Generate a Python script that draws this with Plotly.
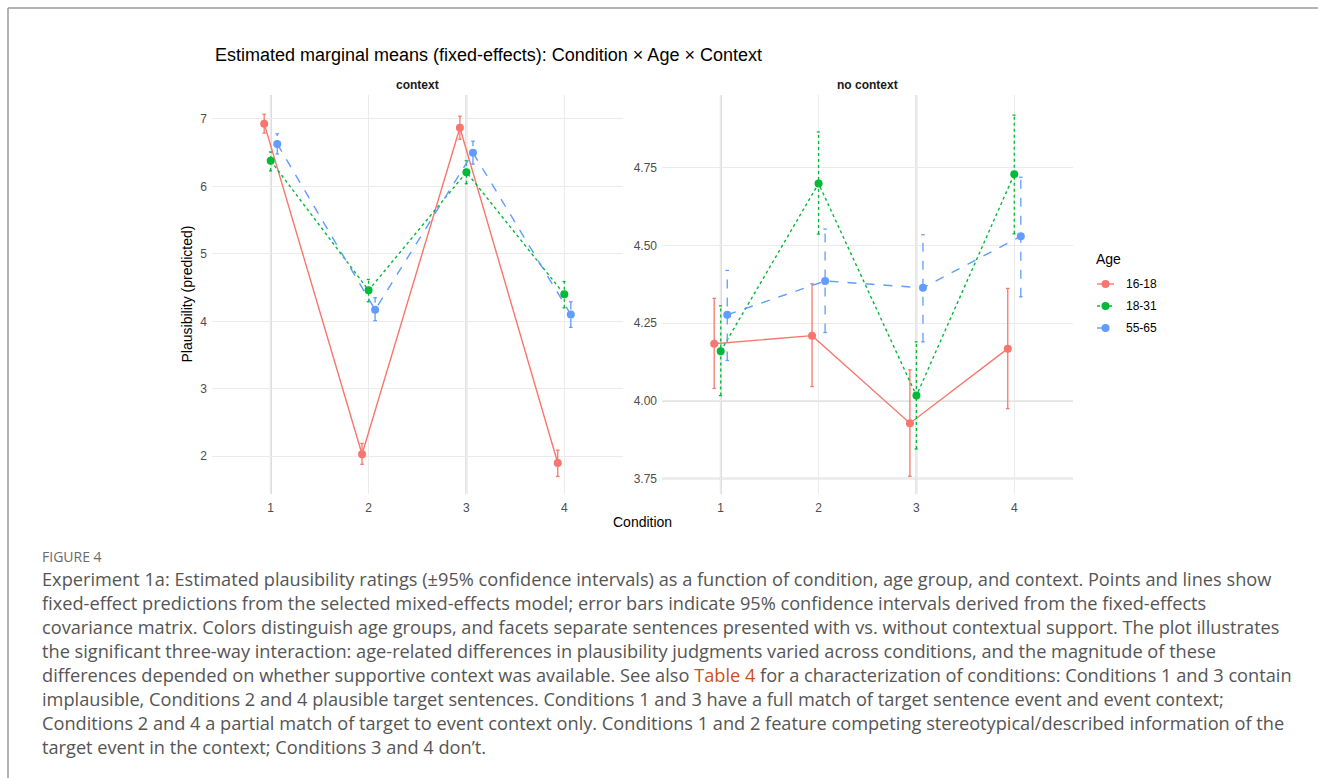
import plotly.graph_objects as go

# ---- data: estimated marginal means with 95% CI ----
conditions = [1, 2, 3, 4]
age_groups = ["16-18", "18-31", "55-65"]

# context facet
ctx_16_18 = [6.93, 2.03, 6.87, 1.90]
ctx_16_18_lo = [6.79, 1.88, 6.70, 1.70]
ctx_16_18_hi = [7.07, 2.19, 7.04, 2.09]
ctx_18_31 = [6.38, 4.46, 6.21, 4.40]
ctx_18_31_lo = [6.23, 4.29, 6.04, 4.20]
ctx_18_31_hi = [6.51, 4.62, 6.38, 4.59]
ctx_55_65 = [6.63, 4.17, 6.50, 4.10]
ctx_55_65_lo = [6.48, 4.01, 6.33, 3.91]
ctx_55_65_hi = [6.78, 4.35, 6.67, 4.29]

# no-context facet
noctx_16_18 = [4.184, 4.210, 3.928, 4.168]
noctx_16_18_lo = [4.040, 4.046, 3.757, 3.975]
noctx_16_18_hi = [4.330, 4.377, 4.100, 4.362]
noctx_18_31 = [4.160, 4.700, 4.017, 4.730]
noctx_18_31_lo = [4.017, 4.537, 3.845, 4.538]
noctx_18_31_hi = [4.306, 4.866, 4.190, 4.920]
noctx_55_65 = [4.277, 4.386, 4.364, 4.530]
noctx_55_65_lo = [4.130, 4.220, 4.190, 4.335]
noctx_55_65_hi = [4.420, 4.553, 4.535, 4.720]

y_ticks_ctx = [2, 3, 4, 5, 6, 7]
y_ticks_noctx = [3.75, 4.00, 4.25, 4.50, 4.75]
y_ticktext_noctx = ["3.75", "4.00", "4.25", "4.50", "4.75"]

# ---- styling ----
W, H = 1318, 778
colors = {"16-18": "#F8766D", "18-31": "#00BA38", "55-65": "#619CFF"}
dashes = {"16-18": "solid", "18-31": "dot", "55-65": "dash"}
dodge = {"16-18": -0.0667, "18-31": 0.0, "55-65": 0.0667}
cap = 0.018
FONT = "Liberation Sans, Arial, sans-serif"


def px_x(p):
    return p / W


def px_y(p):
    return 1 - p / H


fig = go.Figure()

facets = [
    ("x", "y", {"16-18": (ctx_16_18, ctx_16_18_lo, ctx_16_18_hi),
                "18-31": (ctx_18_31, ctx_18_31_lo, ctx_18_31_hi),
                "55-65": (ctx_55_65, ctx_55_65_lo, ctx_55_65_hi)}),
    ("x2", "y2", {"16-18": (noctx_16_18, noctx_16_18_lo, noctx_16_18_hi),
                  "18-31": (noctx_18_31, noctx_18_31_lo, noctx_18_31_hi),
                  "55-65": (noctx_55_65, noctx_55_65_lo, noctx_55_65_hi)}),
]

for xa, ya, series in facets:
    for g in age_groups:
        mean, lo, hi = series[g]
        xs = [c + dodge[g] for c in conditions]
        # error bars as dashed segments with small caps
        ex, ey = [], []
        for x, l, h in zip(xs, lo, hi):
            ex += [x, x, None, x - cap, x + cap, None, x - cap, x + cap, None]
            ey += [l, h, None, l, l, None, h, h, None]
        fig.add_trace(go.Scatter(
            x=ex, y=ey, mode="lines", xaxis=xa, yaxis=ya,
            line=dict(color=colors[g], width=1.3, dash=dashes[g]),
            hoverinfo="skip", showlegend=False))
        fig.add_trace(go.Scatter(
            x=xs, y=mean, mode="lines+markers", xaxis=xa, yaxis=ya, name=g,
            line=dict(color=colors[g], width=1.4, dash=dashes[g]),
            marker=dict(color=colors[g], size=8), showlegend=False))

# panel geometry (pixels)
L1, R1, L2, R2 = 212, 623, 662, 1073
TOP, BOT = 95, 494

axis_common = dict(
    showline=False, zeroline=False, ticks="", showgrid=True,
    gridcolor="#EBEBEB", gridwidth=1.4,
    tickfont=dict(family=FONT, size=12, color="#4D4D4D"),
)

fig.update_layout(
    width=W, height=H,
    margin=dict(l=0, r=0, t=0, b=0),
    paper_bgcolor="white", plot_bgcolor="white",
    xaxis=dict(domain=[px_x(L1), px_x(R1)], range=[0.4, 4.6],
               tickvals=conditions, ticktext=[str(c) for c in conditions],
               anchor="y", ticklabelstandoff=5, **axis_common),
    xaxis2=dict(domain=[px_x(L2), px_x(R2)], range=[0.4, 4.6],
                tickvals=conditions, ticktext=[str(c) for c in conditions],
                anchor="y2", ticklabelstandoff=5, **axis_common),
    yaxis=dict(domain=[px_y(BOT), px_y(TOP)], range=[1.44, 7.355],
               tickvals=y_ticks_ctx, anchor="x", ticklabelstandoff=4,
               **axis_common),
    yaxis2=dict(domain=[px_y(BOT), px_y(TOP)], range=[3.70, 4.985],
                tickvals=y_ticks_noctx, ticktext=y_ticktext_noctx,
                anchor="x2", ticklabelstandoff=4, **axis_common),
    showlegend=False,
)

shapes = []
# darker reference gridlines
for xa, ya in (("x", "y domain"), ("x2", "y2 domain")):
    for c in (1, 3):
        shapes.append(dict(type="line", xref=xa, yref=ya, x0=c, x1=c, y0=0, y1=1,
                           line=dict(color="#BDBDBD", width=1.6), layer="below"))
shapes.append(dict(type="line", xref="x2 domain", yref="y2", x0=0, x1=1,
                   y0=3.75, y1=3.75, line=dict(color="#BDBDBD", width=1.6),
                   layer="below"))
shapes.append(dict(type="line", xref="x2 domain", yref="y2", x0=0, x1=1,
                   y0=4.00, y1=4.00, line=dict(color="#DADADA", width=1.6),
                   layer="below"))

# page frame
shapes.append(dict(type="line", xref="paper", yref="paper",
                   x0=px_x(8), x1=1.0, y0=px_y(8), y1=px_y(8),
                   line=dict(color="#9A9A9A", width=1.5)))
shapes.append(dict(type="line", xref="paper", yref="paper",
                   x0=px_x(8), x1=px_x(8), y0=px_y(8), y1=0,
                   line=dict(color="#9A9A9A", width=1.5)))

annotations = []

# legend
annotations.append(dict(text="Age", x=px_x(1094), y=px_y(259), xref="paper",
                        yref="paper", xanchor="left", yanchor="middle",
                        showarrow=False, font=dict(family=FONT, size=14, color="black")))
for i, g in enumerate(age_groups):
    yy = 284 + 22 * i
    shapes.append(dict(type="line", xref="paper", yref="paper",
                       x0=px_x(1097), x1=px_x(1114), y0=px_y(yy), y1=px_y(yy),
                       line=dict(color=colors[g], width=1.4, dash=dashes[g])))
    shapes.append(dict(type="circle", xref="paper", yref="paper",
                       x0=px_x(1101.5), x1=px_x(1109.5),
                       y0=px_y(yy + 4), y1=px_y(yy - 4),
                       fillcolor=colors[g], line=dict(width=0)))
    annotations.append(dict(text=g, x=px_x(1124), y=px_y(yy), xref="paper",
                            yref="paper", xanchor="left", yanchor="middle",
                            showarrow=False,
                            font=dict(family=FONT, size=12, color="black")))

# title, strips, axis titles
annotations.append(dict(text="Estimated marginal means (fixed-effects): Condition × Age × Context",
                        x=px_x(213), y=px_y(55), xref="paper", yref="paper",
                        xanchor="left", yanchor="middle", showarrow=False,
                        font=dict(family=FONT, size=18, color="black")))
annotations.append(dict(text="<b>context</b>", x=px_x((L1 + R1) / 2), y=px_y(85),
                        xref="paper", yref="paper", xanchor="center", yanchor="middle",
                        showarrow=False, font=dict(family=FONT, size=12, color="#1A1A1A")))
annotations.append(dict(text="<b>no context</b>", x=px_x((L2 + R2) / 2), y=px_y(85),
                        xref="paper", yref="paper", xanchor="center", yanchor="middle",
                        showarrow=False, font=dict(family=FONT, size=12, color="#1A1A1A")))
annotations.append(dict(text="Condition", x=px_x((L1 + R2) / 2), y=px_y(522),
                        xref="paper", yref="paper", xanchor="center", yanchor="middle",
                        showarrow=False, font=dict(family=FONT, size=14, color="black")))
annotations.append(dict(text="Plausibility (predicted)", x=px_x(187), y=px_y((TOP + BOT) / 2),
                        xref="paper", yref="paper", xanchor="center", yanchor="middle",
                        textangle=-90, showarrow=False,
                        font=dict(family=FONT, size=14, color="black")))

# figure caption
CAP_FONT = "Open Sans, Lato, sans-serif"
annotations.append(dict(text="FIGURE 4", x=px_x(40), y=px_y(556), xref="paper", yref="paper",
                        xanchor="left", yanchor="middle", showarrow=False,
                        font=dict(family=CAP_FONT, size=14, color="#6A6A6A")))
caption_lines = [
    "Experiment 1a: Estimated plausibility ratings (±95% confidence intervals) as a function of condition, age group, and context. Points and lines show",
    "fixed-effect predictions from the selected mixed-effects model; error bars indicate 95% confidence intervals derived from the fixed-effects",
    "covariance matrix. Colors distinguish age groups, and facets separate sentences presented with vs. without contextual support. The plot illustrates",
    "the significant three-way interaction: age-related differences in plausibility judgments varied across conditions, and the magnitude of these",
    "differences depended on whether supportive context was available. See also <span style='color:#C9501C'>Table 4</span> for a characterization of conditions: Conditions 1 and 3 contain",
    "implausible, Conditions 2 and 4 plausible target sentences. Conditions 1 and 3 have a full match of target sentence event and event context;",
    "Conditions 2 and 4 a partial match of target to event context only. Conditions 1 and 2 feature competing stereotypical/described information of the",
    "target event in the context; Conditions 3 and 4 don’t.",
]
for i, line in enumerate(caption_lines):
    annotations.append(dict(text=line, x=px_x(40), y=px_y(579 + 24 * i), xref="paper",
                            yref="paper", xanchor="left", yanchor="middle",
                            showarrow=False,
                            font=dict(family=CAP_FONT, size=18.2, color="#555555")))

fig.update_layout(shapes=shapes, annotations=annotations)
fig.write_html("out.html")
